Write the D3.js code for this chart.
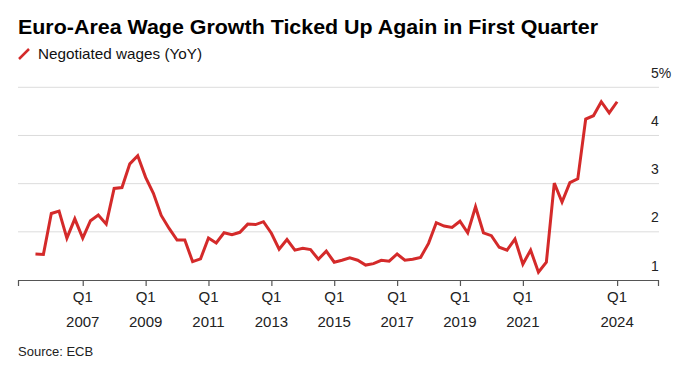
<!DOCTYPE html>
<html lang="en">
<head>
    <meta charset="UTF-8">
    <title>Euro-Area Wage Growth</title>
    <script src="https://d3js.org/d3.v7.min.js"></script>
    <style>
        body { margin: 0; background: #fff; }
        text { font-family: "Liberation Sans", Arial, sans-serif; }
    </style>
</head>
<body>
    <div id="chart"></div>
    <script>
        // Negotiated wages, YoY %, quarterly from 2005 Q3 to 2024 Q1
        const startYear = 2005, startQuarter = 3;
        const wages = [
            1.54, 1.53, 2.38, 2.43, 1.87, 2.27, 1.87, 2.23, 2.35, 2.16,
            2.90, 2.92, 3.41, 3.58, 3.13, 2.80, 2.34, 2.07, 1.83, 1.83,
            1.38, 1.44, 1.87, 1.77, 1.98, 1.94, 1.99, 2.16, 2.15, 2.21,
            1.97, 1.64, 1.84, 1.62, 1.66, 1.63, 1.43, 1.60, 1.37, 1.41,
            1.46, 1.41, 1.31, 1.34, 1.41, 1.39, 1.54, 1.41, 1.43, 1.47,
            1.76, 2.19, 2.12, 2.09, 2.22, 1.98, 2.52, 1.98, 1.92, 1.68,
            1.62, 1.85, 1.33, 1.62, 1.16, 1.37, 3.01, 2.62, 3.02, 3.10,
            4.34, 4.41, 4.70, 4.47, 4.70
        ];
        const tickYears = [2007, 2009, 2011, 2013, 2015, 2017, 2019, 2021, 2024];
        const yTicks = [1, 2, 3, 4, 5];

        const data = wages.map((v, i) => {
            const q = startQuarter - 1 + i;
            return { date: new Date(startYear + Math.floor(q / 4), (q % 4) * 3, 1), value: v };
        });

        const width = 690, height = 367;
        const svg = d3.select("#chart").append("svg")
            .attr("width", width)
            .attr("height", height);

        const x = d3.scaleTime()
            .domain([new Date(2004, 11, 10), new Date(2025, 3, 20)])
            .range([18, 658]);

        const y = d3.scaleLinear()
            .domain([1, 5])
            .range([280, 87.3]);

        // title + legend
        svg.append("text")
            .attr("x", 18).attr("y", 33.5)
            .attr("font-size", "21px")
            .attr("font-weight", "bold")
            .attr("fill", "#000")
            .attr("textLength", 580)
            .attr("lengthAdjust", "spacingAndGlyphs")
            .text("Euro-Area Wage Growth Ticked Up Again in First Quarter");

        svg.append("line")
            .attr("x1", 19).attr("y1", 59)
            .attr("x2", 29).attr("y2", 49)
            .attr("stroke", "#d42a2a")
            .attr("stroke-width", 2.5);

        svg.append("text")
            .attr("x", 38).attr("y", 59.3)
            .attr("font-size", "15px")
            .attr("fill", "#111")
            .attr("textLength", 164)
            .attr("lengthAdjust", "spacingAndGlyphs")
            .text("Negotiated wages (YoY)");

        // horizontal grid
        svg.append("g")
            .selectAll("line")
            .data(yTicks.slice(1))
            .join("line")
            .attr("x1", 18).attr("x2", 659)
            .attr("y1", d => y(d)).attr("y2", d => y(d))
            .attr("stroke", "#dcdcdc")
            .attr("stroke-width", 1);

        // y labels on the right, sitting above the grid lines
        svg.append("g")
            .selectAll("text")
            .data(yTicks)
            .join("text")
            .attr("x", 651)
            .attr("y", d => y(d) - 9.5)
            .attr("font-size", "14px")
            .attr("fill", "#222")
            .text(d => d === 5 ? "5%" : d);

        // x axis
        const xAxis = d3.axisBottom(x)
            .tickValues(tickYears.map(yr => new Date(yr, 0, 1)))
            .tickSize(6)
            .tickFormat("");
        const gx = svg.append("g")
            .attr("transform", "translate(0,280)")
            .call(xAxis);
        gx.select(".domain").attr("stroke", "#555").attr("stroke-width", 1.2);
        gx.selectAll(".tick line").attr("stroke", "#555").attr("stroke-width", 1.2);

        const labels = svg.append("g")
            .selectAll("g")
            .data(tickYears)
            .join("g")
            .attr("transform", d => `translate(${x(new Date(d, 0, 1))},0)`);
        labels.append("text")
            .attr("y", 302)
            .attr("text-anchor", "middle")
            .attr("font-size", "15px")
            .attr("fill", "#222")
            .text("Q1");
        labels.append("text")
            .attr("y", 327)
            .attr("text-anchor", "middle")
            .attr("font-size", "15px")
            .attr("fill", "#222")
            .text(d => d);

        // line
        const line = d3.line()
            .x(d => x(d.date))
            .y(d => y(d.value));

        svg.append("path")
            .datum(data)
            .attr("fill", "none")
            .attr("stroke", "#d42a2a")
            .attr("stroke-width", 3)
            .attr("stroke-linejoin", "miter")
            .attr("d", line);

        // source
        svg.append("text")
            .attr("x", 18).attr("y", 356)
            .attr("font-size", "13px")
            .attr("fill", "#222")
            .text("Source: ECB");
    </script>
</body>
</html>
